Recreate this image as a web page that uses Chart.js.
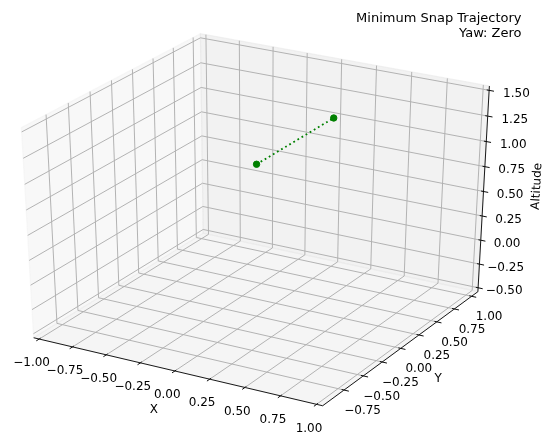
<!DOCTYPE html>
<html>
<head>
<meta charset="utf-8">
<script src="https://cdn.jsdelivr.net/npm/chart.js@4.4.1/dist/chart.umd.min.js"></script>
<style>
  html, body { margin: 0; padding: 0; background: #ffffff; overflow: hidden; }
  canvas { display: block; }
</style>
</head>
<body>
<canvas id="chart" width="545" height="441"></canvas>
<script>
// ---- data -------------------------------------------------------------
// axis limits
const xLimits = [-1.0, 1.0];
const yLimits = [-0.98, 1.05];
const zLimits = [-0.5, 1.5];

// tick values
const xTicks = [-1.0, -0.75, -0.5, -0.25, 0.0, 0.25, 0.5, 0.75, 1.0];
const yTicks = [-0.75, -0.5, -0.25, 0.0, 0.25, 0.5, 0.75, 1.0];
const zTicks = [-0.5, -0.25, 0.0, 0.25, 0.5, 0.75, 1.0, 1.25, 1.5];

// trajectory waypoints
const waypointX = [0.0, 0.0];
const waypointY = [0.0, 1.0];
const waypointZ = [1.0, 1.0];

const titleLines = ['Minimum Snap Trajectory', 'Yaw: Zero'];
const axisNames = ['X', 'Y', 'Altitude'];

// ---- 3D view ----------------------------------------------------------
const ELEV = 30 * Math.PI / 180;
const AZIM = -60 * Math.PI / 180;
const DIST = 10;

// 2D axes box (px) and the projected view limits it spans
const AXES_BOX = { left: -50.8, right: 552.7, top: 0.8, bottom: 436.8 };
const VIEW_X = [-0.095, 0.09];
const VIEW_Y = [-0.095, 0.09];
const CANVAS_W = 545, CANVAS_H = 441;

const PT = 1.2;                 // px per point
const FONT = '12px "DejaVu Sans", "Liberation Sans", sans-serif';
const TITLE_FONT = '13px "DejaVu Sans", "Liberation Sans", sans-serif';
const PANE_COLORS = ['rgba(242,242,242,0.5)', 'rgba(230,230,230,0.5)', 'rgba(236,236,236,0.5)'];
const GRID_COLOR = '#b0b0b0';
const TRAJ_COLOR = '#008000';

const limits = [xLimits, yLimits, zLimits];
const tickSets = [xTicks, yTicks, zTicks];

const dot = (a, b) => a[0] * b[0] + a[1] * b[1] + a[2] * b[2];
const cross = (a, b) => [a[1] * b[2] - a[2] * b[1], a[2] * b[0] - a[0] * b[2], a[0] * b[1] - a[1] * b[0]];
const unit = a => { const n = Math.hypot(a[0], a[1], a[2]); return [a[0] / n, a[1] / n, a[2] / n]; };

const W = [Math.cos(ELEV) * Math.cos(AZIM), Math.cos(ELEV) * Math.sin(AZIM), Math.sin(ELEV)];
const U = unit(cross([0, 0, 1], W));
const V = cross(W, U);

// data value -> unit-cube coordinate
function norm(i, val) {
  const [a, b] = limits[i];
  return (val - a) / (b - a);
}

// unit-cube point -> projected view coordinates
function projectNorm(n) {
  const r = [n[0] - 0.5, n[1] - 0.5, n[2] - 0.5];
  const depth = DIST - dot(W, r);
  return [dot(U, r) / depth, dot(V, r) / depth];
}

function projectData(x, y, z) {
  return projectNorm([norm(0, x), norm(1, y), norm(2, z)]);
}

// scale ranges covering the whole canvas
function canvasRange(view, lo, hi, size, flip) {
  const span = view[1] - view[0];
  const perPx = span / (hi - lo);
  if (!flip) return [view[0] + (0 - lo) * perPx, view[0] + (size - lo) * perPx];
  return [view[1] - (size - lo) * perPx, view[1] - (0 - lo) * perPx];
}
const xRange = canvasRange(VIEW_X, AXES_BOX.left, AXES_BOX.right, CANVAS_W, false);
const yRange = canvasRange(VIEW_Y, AXES_BOX.top, AXES_BOX.bottom, CANVAS_H, true);

// ---- box geometry (panes padded by 1/48 of each range) ----------------
const PAD = 1 / 48;
const DELTA = 1 / 12;
const mins = [-PAD, -PAD, -PAD];
const maxs = [1 + PAD, 1 + PAD, 1 + PAD];
const highs = W.map(c => c < 0);
const minmax = highs.map((h, i) => (h ? maxs[i] : mins[i]));
const maxmin = highs.map((h, i) => (h ? mins[i] : maxs[i]));
const JUGGLED = [[1, 0, 2], [0, 1, 2], [0, 2, 1]];
const TICKDIR = [1, 0, 0];
const DELTAS_PER_POINT = 0.0609;
const TICK_LABEL_SHIFT = (3.5 + 8) * DELTAS_PER_POINT * DELTA;
const AXIS_LABEL_SHIFT = (4 + 21) * DELTAS_PER_POINT * DELTA;

const fmt = v => v.toFixed(2).replace('-', '\u2212');

function moveFromCenter(p, skip, amount) {
  const q = p.slice();
  for (let j = 0; j < 3; j++) {
    if (j === skip) continue;
    q[j] += q[j] > 0.5 ? amount : -amount;
  }
  return q;
}

const axes3dPlugin = {
  id: 'axes3d',
  beforeDatasetsDraw(chart) {
    const ctx = chart.ctx;
    const sx = chart.scales.x, sy = chart.scales.y;
    const pix = n => {
      const p = projectNorm(n);
      return [sx.getPixelForValue(p[0]), sy.getPixelForValue(p[1])];
    };
    ctx.save();

    // panes
    for (let i = 0; i < 3; i++) {
      const j = (i + 1) % 3, k = (i + 2) % 3;
      const corners = [[mins[j], mins[k]], [maxs[j], mins[k]], [maxs[j], maxs[k]], [mins[j], maxs[k]]];
      ctx.beginPath();
      corners.forEach((c, idx) => {
        const n = [0, 0, 0];
        n[i] = minmax[i]; n[j] = c[0]; n[k] = c[1];
        const p = pix(n);
        if (idx === 0) ctx.moveTo(p[0], p[1]); else ctx.lineTo(p[0], p[1]);
      });
      ctx.closePath();
      ctx.fillStyle = PANE_COLORS[i];
      ctx.fill();
      ctx.strokeStyle = PANE_COLORS[i];
      ctx.lineWidth = 1 * PT;
      ctx.stroke();
    }

    // axes
    for (let i = 0; i < 3; i++) {
      const e1 = minmax.slice();
      e1[JUGGLED[i][0]] = maxmin[JUGGLED[i][0]];
      const e2 = e1.slice();
      e2[JUGGLED[i][1]] = maxmin[JUGGLED[i][1]];
      const p1 = pix(e1), p2 = pix(e2);

      // axis line
      ctx.strokeStyle = '#000000';
      ctx.lineWidth = 0.75 * PT;
      ctx.beginPath();
      ctx.moveTo(p1[0], p1[1]);
      ctx.lineTo(p2[0], p2[1]);
      ctx.stroke();

      // axis label
      const mid = [(e1[0] + e2[0]) / 2, (e1[1] + e2[1]) / 2, (e1[2] + e2[2]) / 2];
      const lp = pix(moveFromCenter(mid, i, AXIS_LABEL_SHIFT));
      let angle = 0;
      if (axisNames[i].length > 4) {
        angle = Math.atan2(-(p2[1] - p1[1]), p2[0] - p1[0]) * 180 / Math.PI;
        angle = ((angle + 180) % 180 + 180) % 180;
        if (angle > 90) angle -= 180;
      }
      ctx.save();
      ctx.translate(lp[0], lp[1]);
      ctx.rotate(-angle * Math.PI / 180);
      ctx.font = FONT;
      ctx.fillStyle = '#000000';
      ctx.textAlign = 'center';
      ctx.textBaseline = 'middle';
      ctx.fillText(axisNames[i], 0, 0);
      ctx.restore();

      // grid lines
      const ni = (i + 1) % 3, nk = (i + 2) % 3;
      const flip = (idx, val) => (val === mins[idx] ? maxs[idx] : mins[idx]);
      ctx.strokeStyle = GRID_COLOR;
      ctx.lineWidth = 0.8 * PT;
      tickSets[i].forEach(t => {
        const g0 = minmax.slice();
        g0[i] = norm(i, t);
        const g1 = g0.slice(); g1[ni] = flip(ni, g0[ni]);
        const g2 = g0.slice(); g2[nk] = flip(nk, g0[nk]);
        const a = pix(g1), b = pix(g0), c = pix(g2);
        ctx.beginPath();
        ctx.moveTo(a[0], a[1]);
        ctx.lineTo(b[0], b[1]);
        ctx.lineTo(c[0], c[1]);
        ctx.stroke();
      });

      // ticks and tick labels
      const td = TICKDIR[i];
      const sign = highs[td] ? 1 : -1;
      tickSets[i].forEach(t => {
        const pos = e1.slice();
        pos[i] = norm(i, t);
        const a = pos.slice(); a[td] = e1[td] + 0.1 * sign * DELTA;
        const b = pos.slice(); b[td] = e1[td] - 0.2 * sign * DELTA;
        const pa = pix(a), pb = pix(b);
        ctx.strokeStyle = '#000000';
        ctx.lineWidth = 0.8 * PT;
        ctx.beginPath();
        ctx.moveTo(pa[0], pa[1]);
        ctx.lineTo(pb[0], pb[1]);
        ctx.stroke();

        const lpos = pix(moveFromCenter(pos, i, TICK_LABEL_SHIFT));
        ctx.font = FONT;
        ctx.fillStyle = '#000000';
        ctx.textAlign = 'center';
        ctx.textBaseline = 'top';
        ctx.fillText(fmt(t), lpos[0] + 2, lpos[1]);
      });
    }

    // title block
    ctx.font = TITLE_FONT;
    ctx.fillStyle = '#000000';
    ctx.textAlign = 'right';
    ctx.textBaseline = 'middle';
    titleLines.forEach((line, k) => ctx.fillText(line, 521.5, 18.5 + k * 15));

    ctx.restore();
  }
};

const trajectory = waypointX.map((x, k) => {
  const p = projectData(x, waypointY[k], waypointZ[k]);
  return { x: p[0], y: p[1] };
});

new Chart(document.getElementById('chart'), {
  type: 'scatter',
  data: {
    datasets: [
      {
        label: 'trajectory',
        data: trajectory,
        showLine: true,
        borderColor: TRAJ_COLOR,
        borderWidth: 1.5 * PT,
        borderDash: [1.5 * PT, 2.475 * PT],
        borderCapStyle: 'butt',
        pointRadius: 0,
        fill: false,
        order: 2,
        clip: false
      },
      {
        label: 'waypoints',
        data: trajectory,
        showLine: false,
        backgroundColor: TRAJ_COLOR,
        borderColor: TRAJ_COLOR,
        borderWidth: 1,
        pointRadius: 3.2,
        order: 1,
        clip: false
      }
    ]
  },
  options: {
    responsive: false,
    devicePixelRatio: 1,
    animation: false,
    events: [],
    layout: { padding: 0 },
    plugins: { legend: { display: false }, title: { display: false }, tooltip: { enabled: false } },
    scales: {
      x: { type: 'linear', display: false, min: xRange[0], max: xRange[1] },
      y: { type: 'linear', display: false, min: yRange[0], max: yRange[1] }
    }
  },
  plugins: [axes3dPlugin]
});
</script>
</body>
</html>
